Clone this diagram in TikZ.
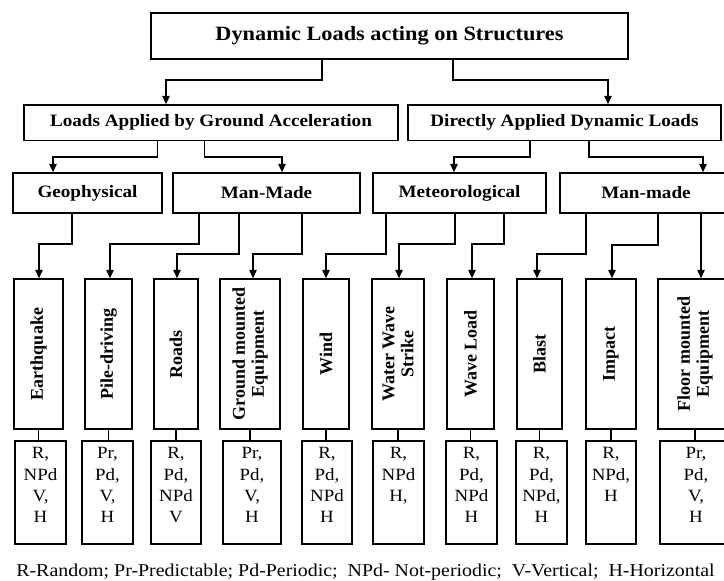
\documentclass[tikz,border=0pt]{standalone}
\usepackage{fontspec}
\setmainfont{Liberation Serif}[FakeStretch=1.1]
\newfontfamily\vfont{Liberation Serif}
\usetikzlibrary{arrows.meta}
\begin{document}
\begin{tikzpicture}[x=1pt,y=-1pt,
  box/.style={draw, inner sep=0pt, line width=1.5pt},
  arr/.style={-{Triangle[length=8.5pt,width=7.5pt]}, line width=1.5pt},
  link/.style={line width=1.5pt},
  ttl/.style={font=\fontsize{20.3}{24}\selectfont\bfseries},
  hd/.style={font=\fontsize{17.4}{21}\selectfont\bfseries},
  vt/.style={rotate=90, align=center, font=\vfont\fontsize{18}{19}\selectfont\bfseries, inner sep=0pt},
  st/.style={anchor=north, align=center, font=\fontsize{17.2}{21.3}\selectfont, inner sep=0pt},
  vbox/.style={box, minimum height=150pt},
  sbox/.style={box, minimum height=103pt},
]
\fill[white] (0,0) rectangle (724,581);
\useasboundingbox (0,0) rectangle (724,581);
\clip (0,0) rectangle (724,581);

% level 1
\node[box, ttl, minimum width=477pt, minimum height=46pt] (top) at (389.5,36) {Dynamic Loads acting on Structures};
% level 2
\node[box, hd, minimum width=374pt, minimum height=35.5pt] (L2a) at (211,122.75) {Loads Applied by Ground Acceleration};
\node[box, hd, minimum width=313pt, minimum height=35.5pt] (L2b) at (564.5,122.75) {Directly Applied Dynamic Loads};
% level 3
\node[box, hd, minimum width=149pt, minimum height=40pt] (geo) at (87.5,193) {Geophysical};
\node[box, hd, minimum width=187pt, minimum height=40pt] (mm1) at (266.5,193) {Man-Made};
\node[box, hd, minimum width=173pt, minimum height=40pt] (met) at (459.5,193) {Meteorological};
\node[box, hd, minimum width=172pt, minimum height=40pt] (mm2) at (646,193) {Man-made};
% vertical boxes
\node[vbox, minimum width=49pt] (eq) at (38.5,354) {};
\node[vbox, minimum width=47pt] (pile) at (108.5,354) {};
\node[vbox, minimum width=44pt] (roads) at (176,354) {};
\node[vbox, minimum width=60pt] (ground) at (250,354) {};
\node[vbox, minimum width=46pt] (wind) at (326,354) {};
\node[vbox, minimum width=52pt] (water) at (398,354) {};
\node[vbox, minimum width=47pt] (wave) at (470.5,354) {};
\node[vbox, minimum width=45pt] (blast) at (539.5,354) {};
\node[vbox, minimum width=50pt] (impact) at (611,354) {};
\node[vbox, minimum width=74pt] (floor) at (695,354) {};
\node[vt] (eqT) at (eq) {Earthquake};
\node[vt] (pileT) at (pile) {Pile-driving};
\node[vt] (roadsT) at (roads) {Roads};
\node[vt] (groundT) at (ground) {Ground mounted\\Equipment};
\node[vt] (windT) at (wind) {Wind};
\node[vt] (waterT) at (water) {Water Wave\\Strike};
\node[vt] (waveT) at (wave) {Wave Load};
\node[vt] (blastT) at (blast) {Blast};
\node[vt] (impactT) at (impact) {Impact};
\node[vt] (floorT) at (floor) {Floor mounted\\Equipment};
% small boxes
\node[sbox, minimum width=51pt] (s1) at (40.5,492.5) {};
\node[sbox, minimum width=51pt] (s2) at (107.5,492.5) {};
\node[sbox, minimum width=50pt] (s3) at (176,492.5) {};
\node[sbox, minimum width=58pt] (s4) at (252,492.5) {};
\node[sbox, minimum width=50pt] (s5) at (327,492.5) {};
\node[sbox, minimum width=51pt] (s6) at (398.5,492.5) {};
\node[sbox, minimum width=51pt] (s7) at (471.5,492.5) {};
\node[sbox, minimum width=51pt] (s8) at (541.5,492.5) {};
\node[sbox, minimum width=50pt] (s9) at (611,492.5) {};
\node[sbox, minimum width=72pt] (s10) at (696,492.5) {};
\node[st] (t1) at ([yshift=-7pt]s1.north) {R,\\NPd\\V,\\H};
\node[st] (t2) at ([yshift=-7pt]s2.north) {Pr,\\Pd,\\V,\\H};
\node[st] (t3) at ([yshift=-7pt]s3.north) {R,\\Pd,\\NPd\\V};
\node[st] (t4) at ([yshift=-7pt]s4.north) {Pr,\\Pd,\\V,\\H};
\node[st] (t5) at ([yshift=-7pt]s5.north) {R,\\Pd,\\NPd\\H};
\node[st] (t6) at ([yshift=-7pt]s6.north) {R,\\NPd\\H,};
\node[st] (t7) at ([yshift=-7pt]s7.north) {R,\\Pd,\\NPd\\H};
\node[st] (t8) at ([yshift=-7pt]s8.north) {R,\\Pd,\\NPd,\\H};
\node[st] (t9) at ([yshift=-7pt]s9.north) {R,\\NPd,\\H};
\node[st] (t10) at ([yshift=-7pt]s10.north) {Pr,\\Pd,\\V,\\H};
% legend
\node[font=\fontsize{18.1}{21}\selectfont, anchor=base, inner sep=0pt] (legend) at (365.5,576) {R-Random; Pr-Predictable; Pd-Periodic;\ \ NPd- Not-periodic;\ \ V-Vertical;\ \ H-Horizontal};

% connectors level 1 -> 2
\draw[arr] ([xshift=-67.5pt]top.south) -- ++(0,20) -| ([xshift=-45pt]L2a.north);
\draw[arr] ([xshift=63.5pt]top.south) -- ++(0,20) -| ([xshift=43.5pt]L2b.north);
% level 2 -> 3
\draw[arr] ([xshift=-53.5pt]L2a.south) -- ++(0,15.5) -| ([xshift=-34.5pt]geo.north);
\draw[arr] ([xshift=-6.5pt]L2a.south) -- ++(0,15.5) -| ([xshift=15.5pt]mm1.north);
\draw[arr] ([xshift=-34.5pt]L2b.south) -- ++(0,15.5) -| ([xshift=-5.5pt]met.north);
\draw[arr] ([xshift=24.5pt]L2b.south) -- ++(0,15.5) -| ([xshift=57pt]mm2.north);
% level 3 -> vertical boxes
\draw[arr] ([xshift=-15.5pt]geo.south) -- ++(0,30) -| ([xshift=0.5pt]eq.north);
\draw[arr] ([xshift=-67.5pt]mm1.south) -- ++(0,30) -| ([xshift=1.5pt]pile.north);
\draw[arr] ([xshift=-27.5pt]mm1.south) -- ++(0,40) -| ([xshift=1pt]roads.north);
\draw[arr] ([xshift=35.5pt]mm1.south) -- ++(0,40) -| ([xshift=3pt]ground.north);
\draw[arr] ([xshift=-73.5pt]met.south) -- ++(0,40) -| (wind.north);
\draw[arr] ([xshift=-4.5pt]met.south) -- ++(0,30) -| ([xshift=1pt]water.north);
\draw[arr] ([xshift=44.5pt]met.south) -- ++(0,30) -| ([xshift=1.5pt]wave.north);
\draw[arr] ([xshift=-60pt]mm2.south) -- ++(0,40) -| ([xshift=-2.5pt]blast.north);
\draw[arr] ([xshift=12pt]mm2.south) -- ++(0,31) -| ([xshift=1pt]impact.north);
\draw[arr] ([xshift=55pt]mm2.south) -- ([xshift=6pt]floor.north);
% vertical boxes -> small boxes
\foreach \a/\b in {eq/s1,pile/s2,roads/s3,ground/s4,wind/s5,water/s6,wave/s7,blast/s8,impact/s9,floor/s10}
  \draw[link] (\a.south) -- (\a.south |- \b.north);
\end{tikzpicture}
\end{document}
